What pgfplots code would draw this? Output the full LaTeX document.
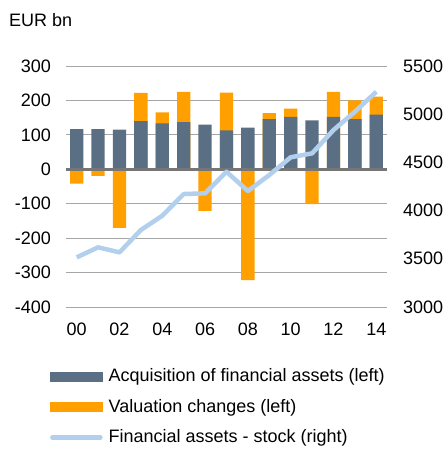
\documentclass[border=0pt]{standalone}
\usepackage{pgfplots}
\pgfplotsset{compat=1.18}
\usepackage{pgfplotstable}
\usepackage{fontspec}
\setmainfont{Liberation Sans}
\definecolor{acq}{HTML}{5A6F84}
\definecolor{val}{HTML}{FFA000}
\definecolor{stock}{HTML}{B3CFEE}
\definecolor{gridc}{HTML}{A6A6A6}
\definecolor{zeroc}{HTML}{767676}

\pgfplotstableread{
x acq val stock
0 117 -42 3515
1 117 -19 3619
2 115 -170 3567
3 140 82 3799
4 133 32 3947
5 137 88 4172
6 130 -121 4179
7 113 110 4403
8 121 -322 4203
9 146 17 4369
10 152 24 4553
11 142 -101 4594
12 152 73 4836
13 146 54 5026
14 159 52 5233
}\data

\newcommand{\cfont}{\fontsize{18}{21}\selectfont}

\begin{document}
\begin{tikzpicture}
\begin{axis}[
  scale only axis,
  width=321pt, height=241pt,
  xmin=-0.5, xmax=14.5, ymin=-400, ymax=300,
  ytick={-400,-300,...,300},
  xtick={0,2,...,14}, xticklabels={00,02,04,06,08,10,12,14},
  axis line style={draw=none}, major tick length=0pt,
  ymajorgrids, grid style={gridc, line width=1pt},
  tick label style={font=\cfont, inner sep=0pt},
  /pgf/number format/assume math mode=true,
  yticklabel shift=15pt, xticklabel shift=16pt,
  legend style={at={(axis description cs:-0.05,-0.224)}, anchor=north west,
    draw=none, fill=none, inner sep=0pt, column sep=6pt,
    font=\cfont, nodes={inner sep=0pt, text height=20.5pt, text depth=10pt}},
  legend cell align=left,
]
\addlegendimage{legend image code/.code={\fill[acq] (0pt,-4.5pt) rectangle (52pt,4.5pt);}}
\addlegendentry{Acquisition of financial assets (left)}
\addlegendimage{legend image code/.code={\fill[val] (0pt,-4.5pt) rectangle (52pt,4.5pt);}}
\addlegendentry{Valuation changes (left)}
\addlegendimage{legend image code/.code={\draw[stock, line width=4.5pt, line cap=round] (2pt,0pt) -- (50pt,0pt);}}
\addlegendentry{Financial assets - stock (right)}
\addplot[ybar, bar width=13.3pt, bar shift=0pt, fill=val, draw=none, forget plot]
  table[x=x, y expr={\thisrow{val}>0 ? \thisrow{acq}+\thisrow{val} : \thisrow{val}}] {\data};
\addplot[ybar, bar width=13.3pt, bar shift=0pt, fill=acq, draw=none, forget plot]
  table[x=x, y=acq] {\data};
\addplot[zeroc, line width=3pt, forget plot] coordinates {(-0.5,0) (14.5,0)};
\coordinate (SW) at (rel axis cs:0,0);
\end{axis}
\begin{axis}[
  scale only axis,
  width=321pt, height=241pt,
  xmin=-0.5, xmax=14.5, ymin=3000, ymax=5500,
  ytick={3000,3500,...,5500},
  hide x axis, axis y line*=right,
  axis line style={draw=none}, major tick length=0pt,
  tick label style={font=\cfont, inner sep=0pt},
  /pgf/number format/assume math mode=true,
  /pgf/number format/1000 sep={},
  yticklabel shift=16pt,
]
\addplot[stock, line width=4.5pt, line join=round] table[x=x, y=stock] {\data};
\end{axis}
\node[anchor=base west, font=\cfont, inner sep=0pt] at ([shift={(-57pt,281pt)}]SW) {EUR bn};
\pgfresetboundingbox
\path[use as bounding box] ([shift={(-66pt,-144pt)}]SW) rectangle ++(447pt,451pt);
\end{tikzpicture}
\end{document}
